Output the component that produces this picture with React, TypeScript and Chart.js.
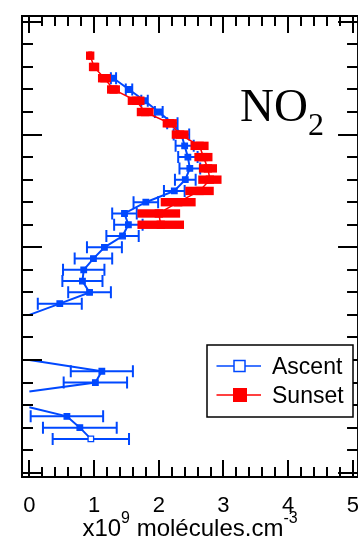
import React, { useEffect, useRef } from "react";
import { Chart, registerables } from "chart.js";

Chart.register(...registerables);

// ---- Data (altitude in km, NO2 in x10^9 molecules.cm^-3) ----
const ascentAltitude = [11.5, 12.0, 12.5, 12.9, 13.25, 13.6, 14.0, 14.5, 15.0, 16.0, 17.0, 17.5, 18.0, 18.5, 19.0, 19.5, 20.0, 20.5, 21.0, 21.5, 22.0, 22.5, 23.0, 23.5, 24.0, 24.5, 25.0, 25.5, 26.0, 26.5, 27.0, 27.5];
const ascentConc: (number | null)[] = [0.95, 0.78, 0.58, 0, null, 0, 1.02, 1.12, 0, null, 0, 0.47, 0.93, 0.82, 0.84, 0.99, 1.16, 1.44, 1.53, 1.47, 1.8, 2.24, 2.41, 2.48, 2.45, 2.4, 2.35, 2.21, 2.0, 1.78, 1.54, 1.3];
const ascentErr = [0.59, 0.57, 0.56, 0, 0, 0, 0.49, 0.48, 0, 0, 0, 0.34, 0.33, 0.31, 0.32, 0.29, 0.27, 0.25, 0.22, 0.19, 0.19, 0.16, 0.16, 0.16, 0.15, 0.14, 0.12, 0.08, 0.06, 0.05, 0.05, 0.04];

const sunsetAltitude = [21.0, 21.5, 22.0, 22.5, 23.0, 23.5, 24.0, 24.5, 25.0, 25.5, 26.0, 26.5, 27.0, 27.5, 28.0, 28.5];
const sunsetConc = [2.03, 2.0, 2.3, 2.63, 2.79, 2.76, 2.69, 2.63, 2.33, 2.17, 1.79, 1.65, 1.3, 1.16, 1.0, 0.94];
const sunsetErr = [0.36, 0.33, 0.27, 0.22, 0.18, 0.14, 0.14, 0.14, 0.13, 0.11, 0.13, 0.13, 0.1, 0.1, 0.08, 0.03];

const xTickLabels = ["0", "1", "2", "3", "4", "5"];
const xTickValues = [0, 1, 2, 3, 4, 5];
const xMinorStep = 0.2;
const yMinorTicks = [10, 11, 12, 13, 14, 15, 16, 17, 18, 19, 20, 21, 22, 23, 24, 25, 26, 27, 28, 29, 30];
const yMajorTicks = [10, 15, 20, 25, 30];

const X_MIN = -0.114;
const X_MAX = 4.988;
const X_FRAME_RIGHT = 5.08;
const Y_MIN = 9.81;
const Y_MAX = 30.26;

const BLUE = "rgb(0,72,255)";
const RED = "#ff0000";
const SANS = '"Liberation Sans", Arial, sans-serif';
const SERIF = '"Liberation Serif", "Times New Roman", serif';

const errorBarPlugin = {
  id: "errorBars",
  beforeDatasetDraw(chart: any, args: any) {
    const ds = chart.data.datasets[args.index];
    const errs: number[] = ds.xErr;
    if (!errs) return;
    const { ctx, chartArea: a, scales } = chart;
    const xs = scales.x;
    ctx.save();
    ctx.beginPath();
    ctx.rect(a.left, a.top, a.right - a.left, a.bottom - a.top);
    ctx.clip();
    args.meta.data.forEach((pt: any, i: number) => {
      const raw = ds.data[i];
      const e = errs[i];
      if (!e || raw.y == null) return;
      const x0 = xs.getPixelForValue(raw.x - e);
      const x1 = xs.getPixelForValue(raw.x + e);
      const py = pt.y;
      if (ds.errStyle === "band") {
        ctx.fillStyle = ds.borderColor;
        ctx.fillRect(x0, py - 4.2, x1 - x0, 8.4);
      } else {
        ctx.strokeStyle = ds.borderColor;
        ctx.lineWidth = 2;
        ctx.beginPath();
        ctx.moveTo(x0, py);
        ctx.lineTo(x1, py);
        ctx.moveTo(x0, py - 6);
        ctx.lineTo(x0, py + 6);
        ctx.moveTo(x1, py - 6);
        ctx.lineTo(x1, py + 6);
        ctx.stroke();
      }
    });
    ctx.restore();
  },
};

const framePlugin = {
  id: "frame",
  afterDraw(chart: any) {
    const { ctx, chartArea: a, scales } = chart;
    const xs = scales.x;
    const ys = scales.y;
    const right = xs.getPixelForValue(X_FRAME_RIGHT);
    ctx.save();
    ctx.strokeStyle = "#000";
    ctx.lineWidth = 2;
    ctx.beginPath();
    ctx.moveTo(a.left, a.top);
    ctx.lineTo(right, a.top);
    ctx.lineTo(right, a.bottom);
    ctx.lineTo(a.left, a.bottom);
    ctx.closePath();
    ctx.stroke();

    // x ticks (top and bottom, inward)
    ctx.beginPath();
    const nX = Math.round((xTickValues[xTickValues.length - 1] - xTickValues[0]) / xMinorStep);
    for (let k = 0; k <= nX; k++) {
      const v = xTickValues[0] + k * xMinorStep;
      const major = Math.abs(v - Math.round(v)) < 1e-6;
      const len = major ? 17 : 10;
      const px = Math.round(xs.getPixelForValue(v));
      ctx.moveTo(px, a.top);
      ctx.lineTo(px, a.top + len);
      ctx.moveTo(px, a.bottom);
      ctx.lineTo(px, a.bottom - len);
    }
    // y ticks (left and right, inward)
    yMinorTicks.forEach((v) => {
      const major = yMajorTicks.includes(v);
      const len = major ? 20 : 11;
      const py = Math.round(ys.getPixelForValue(v));
      ctx.moveTo(a.left, py);
      ctx.lineTo(a.left + len, py);
      ctx.moveTo(right, py);
      ctx.lineTo(right - len, py);
    });
    ctx.stroke();

    // x tick labels
    ctx.fillStyle = "#000";
    ctx.font = `22px ${SANS}`;
    ctx.textAlign = "center";
    ctx.textBaseline = "alphabetic";
    xTickValues.forEach((v, i) => {
      ctx.fillText(xTickLabels[i], xs.getPixelForValue(v), a.bottom + 34.5);
    });

    // axis title: x10^9 molécules.cm^-3
    const mainFont = `24px ${SANS}`;
    const supFont = `16px ${SANS}`;
    const parts: [string, boolean][] = [["x10", false], ["9", true], [" molécules.cm", false], ["-3", true]];
    let total = 0;
    parts.forEach(([t, sup]) => {
      ctx.font = sup ? supFont : mainFont;
      total += ctx.measureText(t).width;
    });
    let cx = (a.left + right) / 2 - total / 2;
    const base = a.bottom + 58.5;
    ctx.textAlign = "left";
    parts.forEach(([t, sup]) => {
      ctx.font = sup ? supFont : mainFont;
      ctx.fillText(t, cx, sup ? base - 13 : base);
      cx += ctx.measureText(t).width;
    });

    // NO2 label
    ctx.font = `47px ${SERIF}`;
    ctx.fillText("NO", 240, 120.7);
    const noW = ctx.measureText("NO").width;
    ctx.font = `32px ${SERIF}`;
    ctx.fillText("2", 240 + noW, 135);

    // legend
    const lx = 207, ly = 345, lw = 146, lh = 72;
    ctx.fillStyle = "#fff";
    ctx.fillRect(lx, ly, lw, lh);
    ctx.strokeStyle = "#000";
    ctx.lineWidth = 1.5;
    ctx.strokeRect(lx, ly, lw, lh);
    const items = [
      { label: "Ascent", color: BLUE, y: 366, open: true, size: 11 },
      { label: "Sunset", color: RED, y: 395, open: false, size: 14 },
    ];
    items.forEach((it) => {
      ctx.strokeStyle = it.color;
      ctx.lineWidth = 1.5;
      ctx.beginPath();
      ctx.moveTo(216.5, it.y);
      ctx.lineTo(261, it.y);
      ctx.stroke();
      const s = it.size;
      if (it.open) {
        ctx.fillStyle = "#fff";
        ctx.fillRect(239.5 - s / 2, it.y - s / 2, s, s);
        ctx.strokeRect(239.5 - s / 2, it.y - s / 2, s, s);
      } else {
        ctx.fillStyle = it.color;
        ctx.fillRect(240 - s / 2, it.y - s / 2, s, s);
      }
      ctx.fillStyle = "#000";
      ctx.font = `23px ${SANS}`;
      ctx.textAlign = "left";
      ctx.fillText(it.label, 272, it.y + 7.5);
    });
    ctx.restore();
  },
};

export default function App() {
  const ref = useRef<HTMLCanvasElement>(null);
  useEffect(() => {
    if (!ref.current) return;
    const ascentData = ascentAltitude.map((alt, i) => ({
      x: ascentConc[i] === null ? 0 : ascentConc[i],
      y: ascentConc[i] === null ? null : alt,
    }));
    const sunsetData = sunsetAltitude.map((alt, i) => ({ x: sunsetConc[i], y: alt }));
    const chart = new Chart(ref.current, {
      type: "scatter",
      data: {
        datasets: [
          {
            label: "Ascent",
            data: ascentData as any,
            showLine: true,
            borderColor: BLUE,
            borderWidth: 2,
            pointStyle: "rect",
            pointRadius: ascentConc.map((c) => (c ? 3.9 : 0)),
            pointBackgroundColor: ascentConc.map((c, i) => (i === 0 ? "#fff" : BLUE)),
            pointBorderColor: BLUE,
            pointBorderWidth: 1.3,
            order: 1,
            xErr: ascentErr,
            errStyle: "bars",
          } as any,
          {
            label: "Sunset",
            data: sunsetData,
            showLine: true,
            borderColor: RED,
            borderWidth: 1.5,
            pointStyle: "rect",
            pointRadius: 5.9,
            pointBackgroundColor: RED,
            pointBorderColor: RED,
            pointBorderWidth: 0,
            order: 0,
            xErr: sunsetErr,
            errStyle: "band",
          } as any,
        ],
      },
      options: {
        animation: false,
        responsive: false,
        events: [],
        layout: { padding: { left: 22, right: 0, top: 16, bottom: 77 } },
        scales: {
          x: { type: "linear", min: X_MIN, max: X_MAX, display: false },
          y: { type: "linear", min: Y_MIN, max: Y_MAX, display: false },
        },
        plugins: { legend: { display: false }, tooltip: { enabled: false } },
      },
      plugins: [errorBarPlugin, framePlugin],
    });
    return () => chart.destroy();
  }, []);
  return (
    <div style={{ position: "absolute", left: 0, top: 0, width: 358, height: 554, background: "#fff" }}>
      <canvas ref={ref} width={358} height={554} style={{ display: "block" }} />
    </div>
  );
}
